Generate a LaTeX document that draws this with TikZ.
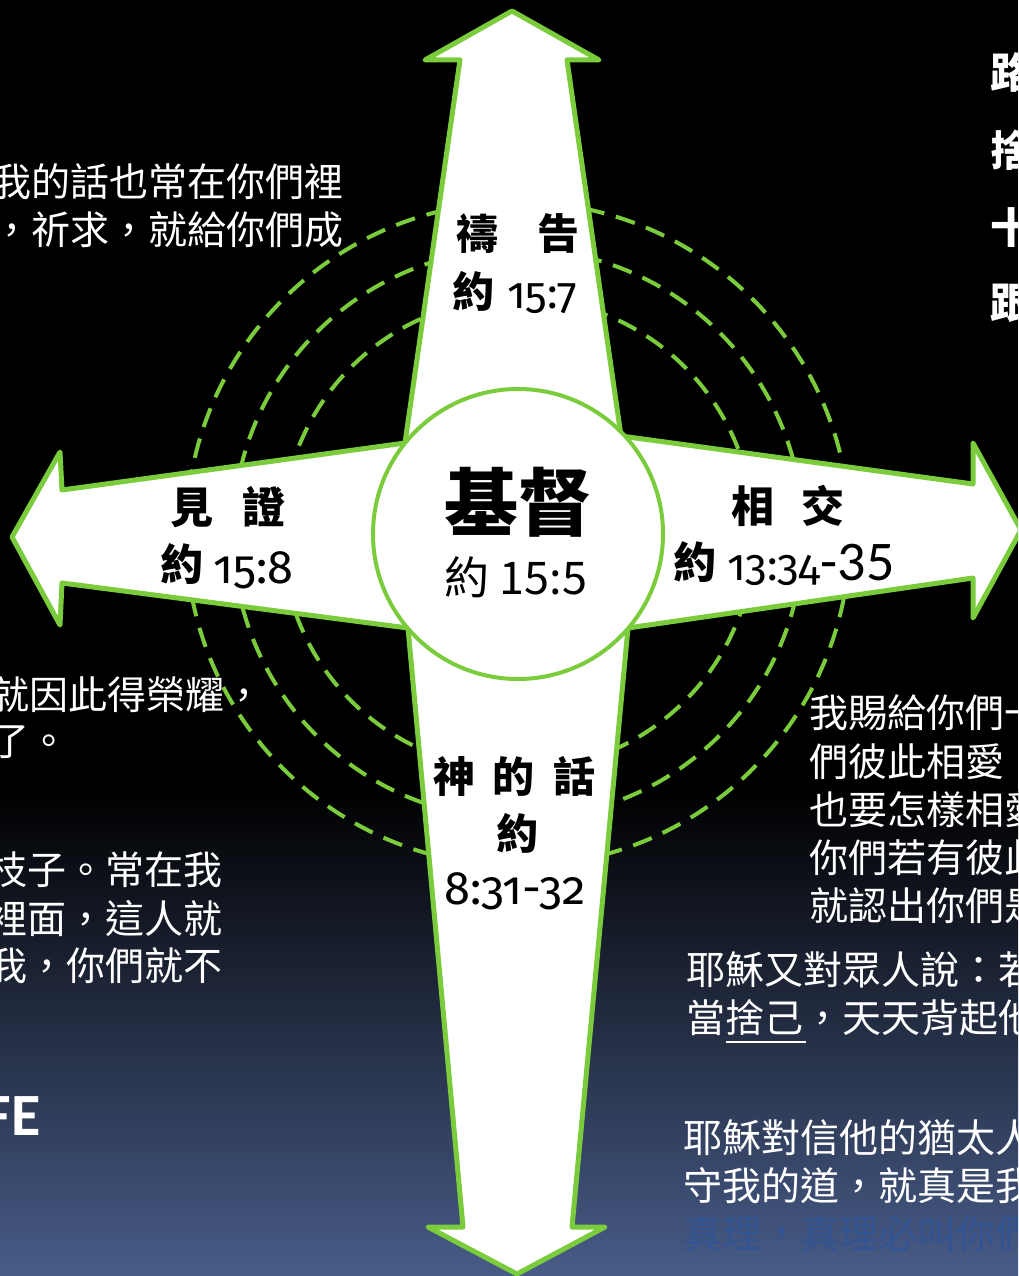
\documentclass[tikz,border=0pt]{standalone}
\usepackage{fontspec}
\setmainfont{Noto Sans CJK TC}
\newfontfamily\numfont[Numbers=OldStyle]{Fira Sans}
\newfontfamily\linfont{Carlito}
\usetikzlibrary{calc}
\definecolor{grn}{RGB}{122,204,60}
\definecolor{bgbot}{RGB}{72,92,136}
\definecolor{dimblue}{RGB}{50,84,146}
\begin{document}
\begin{tikzpicture}[x=1pt,y=-1pt,
  side/.style={text=white, inner sep=0pt, anchor=west, font=\fontsize{39}{39}\selectfont},
  dimside/.style={side, text=dimblue},
  lbl/.style={text=black, inner sep=0pt, font=\fontsize{42}{42}\selectfont\bfseries},
  ref/.style={text=black, inner sep=0pt, anchor=base west, font=\fontsize{#1}{#1}\selectfont\numfont},
  topch/.style={text=white, inner sep=0pt, anchor=west, font=\fontsize{42}{42}\selectfont\bfseries},
  ring/.style={draw=grn, line width=4pt, dash pattern=on 20pt off 12pt},
  armshape/.style={fill=white, draw=grn, line width=5pt, line join=round}
]
\useasboundingbox (0,0) rectangle (1018,1276);
\clip (0,0) rectangle (1018,1276);
% background
\fill[black] (0,0) rectangle (1018,790);
\shade[top color=black, bottom color=bgbot] (0,789) rectangle (1018,1276);
% dashed rings
\foreach \r in {236,285,332} \draw[ring] (518,534) circle[radius=\r];
% cross
\filldraw[armshape]
 (512,11) -- (599,60) -- (567,60) -- (621,436) -- (973,484) -- (973,443) -- (1021,530)
 -- (973,618) -- (973,578) -- (628,628) -- (572,1227) -- (605,1227) -- (517,1274)
 -- (428,1227) -- (463,1227) -- (408,628) -- (62,583) -- (60,625) -- (12,537)
 -- (60,452) -- (62,490) -- (405,443) -- (460,60) -- (425,60) -- cycle;
% centre
\node[circle, fill=white, draw=grn, line width=4pt, minimum size=290pt, inner sep=0pt] (core) at (518,534) {};
\node[lbl, font=\fontsize{74}{74}\selectfont\bfseries] (christ) at (518,502) {基督};
\node[text=black, inner sep=0pt, font=\fontsize{45}{45}\selectfont] (christref) at (516,577) {約 15:5};
% up arm
\node[lbl] (prayer) at (518,234) {禱\hspace{40pt}告};
\node[lbl] (prayyue) at (473,291) {約};
\node[ref=44] (prayref) at (507,308) {15:7};
% left arm
\node[lbl, font=\fontsize{43}{43}\selectfont\bfseries] (witness) at (228,507) {見\hspace{30pt}證};
\node[lbl, font=\fontsize{43}{43}\selectfont\bfseries] (wityue) at (182,564) {約};
\node[ref=47] (witref) at (213,583) {15:8};
% right arm
\node[lbl, font=\fontsize{43}{43}\selectfont\bfseries] (fellow) at (788,506) {相\hspace{27pt}交};
\node[lbl, font=\fontsize{43}{43}\selectfont\bfseries] (felyue) at (695,562) {約};
\node[ref=44] (felref) at (727,580) {13:34{\linfont\fontsize{56}{56}\selectfont -35}};
% down arm
\node[lbl] (word) at (514,776) {神\hspace{18pt}的\hspace{18pt}話};
\node[lbl] (wordyue) at (517,833) {約};
\node[ref=47, anchor=base] (wordref) at (515,904) {8:31-32};
% left texts
\node[side] (tl1) at (-8,182) {我的話也常在你們裡};
\node[side] (tl2) at (-8,230) {，祈求，就給你們成};
\node[side] (ml1) at (-10,695) {就因此得榮耀，};
\node[side] (ml2) at (-10,742) {了。};
\node[side] (bl1) at (-12,870) {枝子。常在我};
\node[side] (bl2) at (-12,918) {裡面，這人就};
\node[side] (bl3) at (-12,966) {我，你們就不};
\node[text=white, inner sep=0pt, anchor=base east, font=\fontsize{60}{60}\selectfont\linfont\bfseries] (life) at (41,1135) {FE};
% right texts
\node[side] (r1) at (809,713) {我賜給你們一};
\node[side] (r2) at (809,762) {們彼此相愛；};
\node[side] (r3) at (809,810) {也要怎樣相愛};
\node[side] (r4) at (809,858) {你們若有彼此};
\node[side] (r5) at (809,906) {就認出你們是};
\node[side] (lk1) at (686,970) {耶穌又對眾人說：若};
\node[side] (lk2) at (686,1018) {當捨己，天天背起他};
\draw[white, line width=2.5pt] (726,1042) -- (806,1042);
\node[side] (jn1) at (683,1138) {耶穌對信他的猶太人};
\node[side] (jn2) at (683,1186) {守我的道，就真是我};
\node[dimside] (jn3) at (683,1234) {真理，真理必叫你們};
% right column
\node[topch] (c1) at (990,72) {路};
\node[topch] (c2) at (990,150) {捨};
\node[topch] (c3) at (990,228) {十};
\node[topch] (c4) at (990,303) {跟};
\end{tikzpicture}
\end{document}
